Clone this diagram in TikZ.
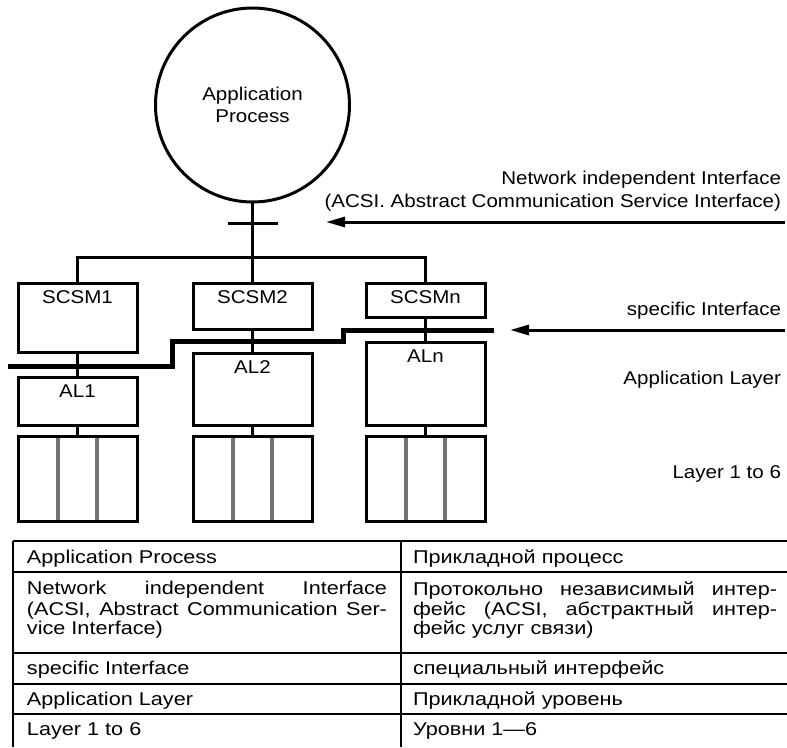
\documentclass[tikz,border=0pt]{standalone}
\usepackage{fontspec}
\setmainfont{Liberation Sans}[FakeStretch=1.11]
\newfontfamily\tabfont{Liberation Sans}[FakeStretch=1.17]
\usepackage{tikz}
\usetikzlibrary{positioning,arrows.meta,calc}
\definecolor{sepgray}{gray}{0.45}

\begin{document}
\begin{tikzpicture}[
    x=1pt, y=-1pt,
    every node/.style={inner sep=0pt, outer sep=0pt, font=\fontsize{18.5}{22}\selectfont},
    >={Triangle[length=19pt,width=10pt]},
    wire/.style={line width=3pt},
    box/.style={draw, line width=3pt, minimum width=119pt, anchor=north},
    boxlabel/.style={label={[anchor=north,yshift=-8pt]north:#1}},
    rule/.style={line width=1.6pt},
    tabcell/.style={font=\tabfont\fontsize{18.5}{19}\selectfont}
]
\useasboundingbox (0,0) rectangle (787,747);

% Proceso de aplicacion
\node[circle, draw, line width=3pt, minimum size=194pt, align=center] (AP)
    at (252.5,105) {Application\\Process};

% Primera fila: SCSM
\node[box, minimum height=69pt, boxlabel=SCSM1] (SCSM1) at (77.5,283) {};
\node[box, minimum height=46pt, boxlabel=SCSM2] (SCSM2) at (252.5,283) {};
\node[box, minimum height=34pt, boxlabel=SCSMn] (SCSMn) at (425.5,283) {};

% Segunda fila: capas de aplicacion
\node[box, minimum height=48pt, boxlabel=AL1, below=25pt of SCSM1] (AL1) {};
\node[box, minimum height=72pt, boxlabel=AL2, below=24pt of SCSM2] (AL2) {};
\node[box, minimum height=83pt, boxlabel=ALn, below=25pt of SCSMn] (ALn) {};

% Tercera fila: capas 1 a 6
\node[box, minimum height=85pt, below=11pt of AL1] (L1) {};
\node[box, minimum height=85pt, below=11pt of AL2] (L2) {};
\node[box, minimum height=85pt, below=11pt of ALn] (Ln) {};

\foreach \b in {L1,L2,Ln}
    \foreach \f in {0.336,0.664}
        \draw[line width=4pt, sepgray, shorten <=1.5pt, shorten >=1.5pt]
            ($(\b.north west)!\f!(\b.north east)$) -- ($(\b.south west)!\f!(\b.south east)$);

% Bus
\coordinate (busy) at (0,257);
\coordinate (tick) at ($(AP.south)+(0,21)$);
\draw[wire] (AP.south) -- (SCSM2.north);
\draw[wire] (SCSM1.north) |- (SCSMn.north |- busy) -- (SCSMn.north);
\draw[wire] ([xshift=-25pt]tick) -- ([xshift=25pt]tick);

\draw[wire] (SCSM1) -- (AL1);
\draw[wire] (SCSM2) -- (AL2);
\draw[wire] (SCSMn) -- (ALn);
\draw[wire] (AL1) -- (L1);
\draw[wire] (AL2) -- (L2);
\draw[wire] (ALn) -- (Ln);

% Interfaz especifica
\coordinate (siL) at (8,366);
\coordinate (siR) at (494,330);
\draw[line width=5pt] (siL) -- ++(164,0) -- ++(0,-25) -- ++(171,0) -- ++(0,-11) -- (siR);

% Flechas y textos a la derecha
\coordinate (acsiStart) at (785,222);
\coordinate (acsiTip) at (326,222);
\coordinate (siStart) at (785,330);
\coordinate (siTip) at (510,330);
\draw[wire,->] (acsiStart) -- (acsiTip);
\draw[wire,->] (siStart) -- (siTip);

\node[anchor=north east, align=right, font=\fontsize{18.5}{23}\selectfont] (acsiLabel)
    at (781,171.5) {Network independent Interface\\(ACSI. Abstract Communication Service Interface)};
\node[anchor=base east] (siLabel) at (781,315) {specific Interface};
\node[anchor=base east] (alLabel) at (781,384) {Application Layer};
\node[anchor=base east] (layLabel) at (781,478) {Layer 1 to 6};

% Tabla
\foreach \y in {541,572,653,684,714}
    \draw[rule] (13,\y) -- (787,\y);
\draw[rule] (13,541) -- (13,747);
\draw[rule] (401,541) -- (401,747);

\node[tabcell, anchor=base west] (tAP) at (27,563) {Application Process};
\node[tabcell, anchor=base west] (tAPru) at (413,563) {Прикладной процесс};
\node[tabcell, anchor=north west, align=left] (tNII) at (27,581.5)
    {\strut\makebox[360pt][s]{Network independent Interface}\\
     \makebox[360pt][s]{(ACSI, Abstract Communication Ser-}\\
     vice Interface)};
\node[tabcell, anchor=north west, align=left] (tNIIru) at (413,581.5)
    {\strut\makebox[364pt][s]{Протокольно независимый интер-}\\
     \makebox[364pt][s]{фейс (ACSI, абстрактный интер-}\\
     фейс услуг связи)};
\node[tabcell, anchor=base west] (tSI) at (27,674) {specific Interface};
\node[tabcell, anchor=base west] (tSIru) at (413,674) {специальный интерфейс};
\node[tabcell, anchor=base west] (tAL) at (27,705.5) {Application Layer};
\node[tabcell, anchor=base west] (tALru) at (413,705.5) {Прикладной уровень};
\node[tabcell, anchor=base west] (tL) at (27,735) {Layer 1 to 6};
\node[tabcell, anchor=base west] (tLru) at (413,735) {Уровни 1—6};

\end{tikzpicture}
\end{document}
